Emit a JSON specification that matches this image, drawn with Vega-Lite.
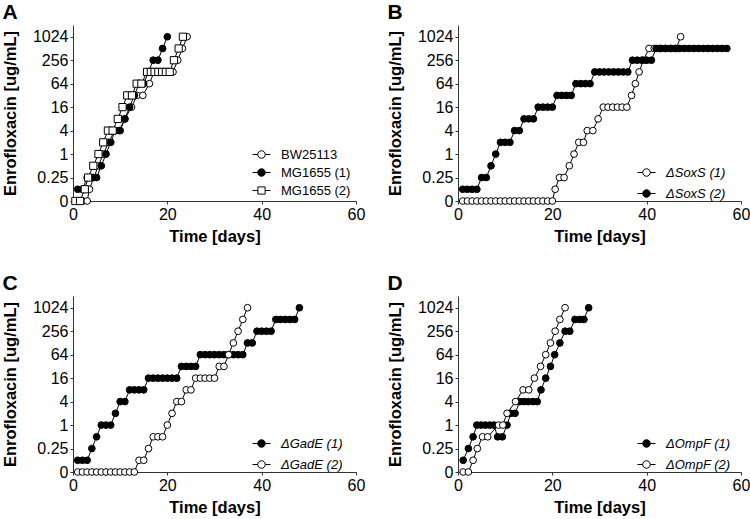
{
  "$schema": "https://vega.github.io/schema/vega-lite/v6.json",
  "padding": {"left": 2, "top": 2, "right": 0, "bottom": 0},
  "background": "white",
  "datasets": {
    "A": [
      {"series": "BW25113", "day": 2, "conc": 0}, {"series": "BW25113", "day": 3, "conc": 0},
      {"series": "BW25113", "day": 3.5, "conc": 0.125}, {"series": "BW25113", "day": 4.4, "conc": 0.25},
      {"series": "BW25113", "day": 5.4, "conc": 0.5}, {"series": "BW25113", "day": 6.4, "conc": 1},
      {"series": "BW25113", "day": 7.6, "conc": 2}, {"series": "BW25113", "day": 8.8, "conc": 4},
      {"series": "BW25113", "day": 9.8, "conc": 4}, {"series": "BW25113", "day": 11, "conc": 8},
      {"series": "BW25113", "day": 12.4, "conc": 16}, {"series": "BW25113", "day": 13.6, "conc": 32},
      {"series": "BW25113", "day": 14.8, "conc": 32}, {"series": "BW25113", "day": 16.2, "conc": 64},
      {"series": "BW25113", "day": 17.2, "conc": 128}, {"series": "BW25113", "day": 18, "conc": 128},
      {"series": "BW25113", "day": 18.8, "conc": 128}, {"series": "BW25113", "day": 19.6, "conc": 128},
      {"series": "BW25113", "day": 20.4, "conc": 128}, {"series": "BW25113", "day": 21.2, "conc": 128},
      {"series": "BW25113", "day": 22.2, "conc": 256}, {"series": "BW25113", "day": 23.2, "conc": 512},
      {"series": "BW25113", "day": 24.2, "conc": 1024},
      {"series": "MG1655 (1)", "day": 1, "conc": 0.125}, {"series": "MG1655 (1)", "day": 2, "conc": 0.125},
      {"series": "MG1655 (1)", "day": 3, "conc": 0.25}, {"series": "MG1655 (1)", "day": 4, "conc": 0.25},
      {"series": "MG1655 (1)", "day": 5, "conc": 0.25}, {"series": "MG1655 (1)", "day": 6, "conc": 0.5},
      {"series": "MG1655 (1)", "day": 7, "conc": 1}, {"series": "MG1655 (1)", "day": 8, "conc": 2},
      {"series": "MG1655 (1)", "day": 9, "conc": 4}, {"series": "MG1655 (1)", "day": 10, "conc": 4},
      {"series": "MG1655 (1)", "day": 11, "conc": 8}, {"series": "MG1655 (1)", "day": 12, "conc": 16},
      {"series": "MG1655 (1)", "day": 13, "conc": 32}, {"series": "MG1655 (1)", "day": 14, "conc": 64},
      {"series": "MG1655 (1)", "day": 15, "conc": 64}, {"series": "MG1655 (1)", "day": 16, "conc": 128},
      {"series": "MG1655 (1)", "day": 17, "conc": 256}, {"series": "MG1655 (1)", "day": 18, "conc": 256},
      {"series": "MG1655 (1)", "day": 19, "conc": 512}, {"series": "MG1655 (1)", "day": 20, "conc": 1024},
      {"series": "MG1655 (2)", "day": 0.5, "conc": 0}, {"series": "MG1655 (2)", "day": 1.5, "conc": 0},
      {"series": "MG1655 (2)", "day": 2.5, "conc": 0.125}, {"series": "MG1655 (2)", "day": 3.2, "conc": 0.25},
      {"series": "MG1655 (2)", "day": 4.3, "conc": 0.5}, {"series": "MG1655 (2)", "day": 5.4, "conc": 1},
      {"series": "MG1655 (2)", "day": 6.4, "conc": 2}, {"series": "MG1655 (2)", "day": 7.4, "conc": 4},
      {"series": "MG1655 (2)", "day": 8.4, "conc": 4}, {"series": "MG1655 (2)", "day": 9.5, "conc": 8},
      {"series": "MG1655 (2)", "day": 10.5, "conc": 16}, {"series": "MG1655 (2)", "day": 11.5, "conc": 32},
      {"series": "MG1655 (2)", "day": 12.5, "conc": 32}, {"series": "MG1655 (2)", "day": 13.5, "conc": 64},
      {"series": "MG1655 (2)", "day": 14.5, "conc": 64}, {"series": "MG1655 (2)", "day": 15.7, "conc": 128},
      {"series": "MG1655 (2)", "day": 16.5, "conc": 128}, {"series": "MG1655 (2)", "day": 17.3, "conc": 128},
      {"series": "MG1655 (2)", "day": 18.1, "conc": 128}, {"series": "MG1655 (2)", "day": 18.9, "conc": 128},
      {"series": "MG1655 (2)", "day": 19.7, "conc": 128}, {"series": "MG1655 (2)", "day": 20.5, "conc": 128},
      {"series": "MG1655 (2)", "day": 21.4, "conc": 256}, {"series": "MG1655 (2)", "day": 22.4, "conc": 512},
      {"series": "MG1655 (2)", "day": 23.3, "conc": 1024}
    ],
    "B": [
      {"series": "ΔSoxS (1)", "day": 1, "conc": 0}, {"series": "ΔSoxS (1)", "day": 2, "conc": 0},
      {"series": "ΔSoxS (1)", "day": 3, "conc": 0}, {"series": "ΔSoxS (1)", "day": 4, "conc": 0},
      {"series": "ΔSoxS (1)", "day": 5, "conc": 0}, {"series": "ΔSoxS (1)", "day": 6, "conc": 0},
      {"series": "ΔSoxS (1)", "day": 7, "conc": 0}, {"series": "ΔSoxS (1)", "day": 8, "conc": 0},
      {"series": "ΔSoxS (1)", "day": 9, "conc": 0}, {"series": "ΔSoxS (1)", "day": 10, "conc": 0},
      {"series": "ΔSoxS (1)", "day": 11, "conc": 0}, {"series": "ΔSoxS (1)", "day": 12, "conc": 0},
      {"series": "ΔSoxS (1)", "day": 13, "conc": 0}, {"series": "ΔSoxS (1)", "day": 14, "conc": 0},
      {"series": "ΔSoxS (1)", "day": 15, "conc": 0}, {"series": "ΔSoxS (1)", "day": 16, "conc": 0},
      {"series": "ΔSoxS (1)", "day": 17, "conc": 0}, {"series": "ΔSoxS (1)", "day": 18, "conc": 0},
      {"series": "ΔSoxS (1)", "day": 19, "conc": 0}, {"series": "ΔSoxS (1)", "day": 20, "conc": 0},
      {"series": "ΔSoxS (1)", "day": 20.6, "conc": 0.125}, {"series": "ΔSoxS (1)", "day": 21.5, "conc": 0.25},
      {"series": "ΔSoxS (1)", "day": 22.5, "conc": 0.25}, {"series": "ΔSoxS (1)", "day": 23.6, "conc": 0.5},
      {"series": "ΔSoxS (1)", "day": 24.6, "conc": 1}, {"series": "ΔSoxS (1)", "day": 25.6, "conc": 2},
      {"series": "ΔSoxS (1)", "day": 26.6, "conc": 2}, {"series": "ΔSoxS (1)", "day": 27.4, "conc": 4},
      {"series": "ΔSoxS (1)", "day": 28.6, "conc": 4}, {"series": "ΔSoxS (1)", "day": 29.7, "conc": 8},
      {"series": "ΔSoxS (1)", "day": 30.8, "conc": 16}, {"series": "ΔSoxS (1)", "day": 31.8, "conc": 16},
      {"series": "ΔSoxS (1)", "day": 32.8, "conc": 16}, {"series": "ΔSoxS (1)", "day": 33.8, "conc": 16},
      {"series": "ΔSoxS (1)", "day": 34.8, "conc": 16}, {"series": "ΔSoxS (1)", "day": 35.8, "conc": 16},
      {"series": "ΔSoxS (1)", "day": 36.8, "conc": 32}, {"series": "ΔSoxS (1)", "day": 37.6, "conc": 64},
      {"series": "ΔSoxS (1)", "day": 38.4, "conc": 128}, {"series": "ΔSoxS (1)", "day": 39.3, "conc": 256},
      {"series": "ΔSoxS (1)", "day": 40.5, "conc": 512}, {"series": "ΔSoxS (1)", "day": 41.6, "conc": 512},
      {"series": "ΔSoxS (1)", "day": 42.8, "conc": 512}, {"series": "ΔSoxS (1)", "day": 44, "conc": 512},
      {"series": "ΔSoxS (1)", "day": 45.2, "conc": 512}, {"series": "ΔSoxS (1)", "day": 46.3, "conc": 512},
      {"series": "ΔSoxS (1)", "day": 47.2, "conc": 1024},
      {"series": "ΔSoxS (2)", "day": 1, "conc": 0.125}, {"series": "ΔSoxS (2)", "day": 2, "conc": 0.125},
      {"series": "ΔSoxS (2)", "day": 3, "conc": 0.125}, {"series": "ΔSoxS (2)", "day": 4, "conc": 0.125},
      {"series": "ΔSoxS (2)", "day": 5, "conc": 0.25}, {"series": "ΔSoxS (2)", "day": 6, "conc": 0.25},
      {"series": "ΔSoxS (2)", "day": 7, "conc": 0.5}, {"series": "ΔSoxS (2)", "day": 8, "conc": 1},
      {"series": "ΔSoxS (2)", "day": 9, "conc": 2}, {"series": "ΔSoxS (2)", "day": 10, "conc": 2},
      {"series": "ΔSoxS (2)", "day": 11, "conc": 2}, {"series": "ΔSoxS (2)", "day": 12, "conc": 4},
      {"series": "ΔSoxS (2)", "day": 13, "conc": 4}, {"series": "ΔSoxS (2)", "day": 14, "conc": 8},
      {"series": "ΔSoxS (2)", "day": 15, "conc": 8}, {"series": "ΔSoxS (2)", "day": 16, "conc": 8},
      {"series": "ΔSoxS (2)", "day": 17, "conc": 16}, {"series": "ΔSoxS (2)", "day": 18, "conc": 16},
      {"series": "ΔSoxS (2)", "day": 19, "conc": 16}, {"series": "ΔSoxS (2)", "day": 20, "conc": 16},
      {"series": "ΔSoxS (2)", "day": 21, "conc": 32}, {"series": "ΔSoxS (2)", "day": 22, "conc": 32},
      {"series": "ΔSoxS (2)", "day": 23, "conc": 32}, {"series": "ΔSoxS (2)", "day": 24, "conc": 32},
      {"series": "ΔSoxS (2)", "day": 25, "conc": 64}, {"series": "ΔSoxS (2)", "day": 26, "conc": 64},
      {"series": "ΔSoxS (2)", "day": 27, "conc": 64}, {"series": "ΔSoxS (2)", "day": 28, "conc": 64},
      {"series": "ΔSoxS (2)", "day": 29, "conc": 128}, {"series": "ΔSoxS (2)", "day": 30, "conc": 128},
      {"series": "ΔSoxS (2)", "day": 31, "conc": 128}, {"series": "ΔSoxS (2)", "day": 32, "conc": 128},
      {"series": "ΔSoxS (2)", "day": 33, "conc": 128}, {"series": "ΔSoxS (2)", "day": 34, "conc": 128},
      {"series": "ΔSoxS (2)", "day": 35, "conc": 128}, {"series": "ΔSoxS (2)", "day": 36, "conc": 128},
      {"series": "ΔSoxS (2)", "day": 37, "conc": 256}, {"series": "ΔSoxS (2)", "day": 38, "conc": 256},
      {"series": "ΔSoxS (2)", "day": 39, "conc": 256}, {"series": "ΔSoxS (2)", "day": 40, "conc": 256},
      {"series": "ΔSoxS (2)", "day": 41, "conc": 256}, {"series": "ΔSoxS (2)", "day": 42, "conc": 512},
      {"series": "ΔSoxS (2)", "day": 43, "conc": 512}, {"series": "ΔSoxS (2)", "day": 44, "conc": 512},
      {"series": "ΔSoxS (2)", "day": 45, "conc": 512}, {"series": "ΔSoxS (2)", "day": 46, "conc": 512},
      {"series": "ΔSoxS (2)", "day": 47, "conc": 512}, {"series": "ΔSoxS (2)", "day": 48, "conc": 512},
      {"series": "ΔSoxS (2)", "day": 49, "conc": 512}, {"series": "ΔSoxS (2)", "day": 50, "conc": 512},
      {"series": "ΔSoxS (2)", "day": 51, "conc": 512}, {"series": "ΔSoxS (2)", "day": 52, "conc": 512},
      {"series": "ΔSoxS (2)", "day": 53, "conc": 512}, {"series": "ΔSoxS (2)", "day": 54, "conc": 512},
      {"series": "ΔSoxS (2)", "day": 55, "conc": 512}, {"series": "ΔSoxS (2)", "day": 56, "conc": 512},
      {"series": "ΔSoxS (2)", "day": 57, "conc": 512}
    ],
    "C": [
      {"series": "ΔGadE (1)", "day": 1, "conc": 0.125}, {"series": "ΔGadE (1)", "day": 2, "conc": 0.125},
      {"series": "ΔGadE (1)", "day": 3, "conc": 0.125}, {"series": "ΔGadE (1)", "day": 4, "conc": 0.25},
      {"series": "ΔGadE (1)", "day": 5, "conc": 0.5}, {"series": "ΔGadE (1)", "day": 6, "conc": 1},
      {"series": "ΔGadE (1)", "day": 7, "conc": 1}, {"series": "ΔGadE (1)", "day": 8, "conc": 1},
      {"series": "ΔGadE (1)", "day": 9, "conc": 2}, {"series": "ΔGadE (1)", "day": 10, "conc": 4},
      {"series": "ΔGadE (1)", "day": 11, "conc": 4}, {"series": "ΔGadE (1)", "day": 12, "conc": 8},
      {"series": "ΔGadE (1)", "day": 13, "conc": 8}, {"series": "ΔGadE (1)", "day": 14, "conc": 8},
      {"series": "ΔGadE (1)", "day": 15, "conc": 8}, {"series": "ΔGadE (1)", "day": 16, "conc": 16},
      {"series": "ΔGadE (1)", "day": 17, "conc": 16}, {"series": "ΔGadE (1)", "day": 18, "conc": 16},
      {"series": "ΔGadE (1)", "day": 19, "conc": 16}, {"series": "ΔGadE (1)", "day": 20, "conc": 16},
      {"series": "ΔGadE (1)", "day": 21, "conc": 16}, {"series": "ΔGadE (1)", "day": 22, "conc": 16},
      {"series": "ΔGadE (1)", "day": 23, "conc": 32}, {"series": "ΔGadE (1)", "day": 24, "conc": 32},
      {"series": "ΔGadE (1)", "day": 25, "conc": 32}, {"series": "ΔGadE (1)", "day": 26, "conc": 32},
      {"series": "ΔGadE (1)", "day": 27, "conc": 64}, {"series": "ΔGadE (1)", "day": 28, "conc": 64},
      {"series": "ΔGadE (1)", "day": 29, "conc": 64}, {"series": "ΔGadE (1)", "day": 30, "conc": 64},
      {"series": "ΔGadE (1)", "day": 31, "conc": 64}, {"series": "ΔGadE (1)", "day": 32, "conc": 64},
      {"series": "ΔGadE (1)", "day": 33, "conc": 64}, {"series": "ΔGadE (1)", "day": 34, "conc": 64},
      {"series": "ΔGadE (1)", "day": 35, "conc": 64}, {"series": "ΔGadE (1)", "day": 36, "conc": 64},
      {"series": "ΔGadE (1)", "day": 37, "conc": 128}, {"series": "ΔGadE (1)", "day": 38, "conc": 128},
      {"series": "ΔGadE (1)", "day": 39, "conc": 256}, {"series": "ΔGadE (1)", "day": 40, "conc": 256},
      {"series": "ΔGadE (1)", "day": 41, "conc": 256}, {"series": "ΔGadE (1)", "day": 42, "conc": 256},
      {"series": "ΔGadE (1)", "day": 43, "conc": 512}, {"series": "ΔGadE (1)", "day": 44, "conc": 512},
      {"series": "ΔGadE (1)", "day": 45, "conc": 512}, {"series": "ΔGadE (1)", "day": 46, "conc": 512},
      {"series": "ΔGadE (1)", "day": 47, "conc": 512}, {"series": "ΔGadE (1)", "day": 48, "conc": 1024},
      {"series": "ΔGadE (2)", "day": 1, "conc": 0}, {"series": "ΔGadE (2)", "day": 2, "conc": 0},
      {"series": "ΔGadE (2)", "day": 3, "conc": 0}, {"series": "ΔGadE (2)", "day": 4, "conc": 0},
      {"series": "ΔGadE (2)", "day": 5, "conc": 0}, {"series": "ΔGadE (2)", "day": 6, "conc": 0},
      {"series": "ΔGadE (2)", "day": 7, "conc": 0}, {"series": "ΔGadE (2)", "day": 8, "conc": 0},
      {"series": "ΔGadE (2)", "day": 9, "conc": 0}, {"series": "ΔGadE (2)", "day": 10, "conc": 0},
      {"series": "ΔGadE (2)", "day": 11, "conc": 0}, {"series": "ΔGadE (2)", "day": 12, "conc": 0},
      {"series": "ΔGadE (2)", "day": 13, "conc": 0}, {"series": "ΔGadE (2)", "day": 14, "conc": 0.125},
      {"series": "ΔGadE (2)", "day": 15, "conc": 0.125}, {"series": "ΔGadE (2)", "day": 16, "conc": 0.25},
      {"series": "ΔGadE (2)", "day": 17, "conc": 0.5}, {"series": "ΔGadE (2)", "day": 18, "conc": 0.5},
      {"series": "ΔGadE (2)", "day": 19, "conc": 0.5}, {"series": "ΔGadE (2)", "day": 20, "conc": 1},
      {"series": "ΔGadE (2)", "day": 21, "conc": 2}, {"series": "ΔGadE (2)", "day": 22, "conc": 4},
      {"series": "ΔGadE (2)", "day": 23, "conc": 4}, {"series": "ΔGadE (2)", "day": 24, "conc": 8},
      {"series": "ΔGadE (2)", "day": 25, "conc": 8}, {"series": "ΔGadE (2)", "day": 26, "conc": 16},
      {"series": "ΔGadE (2)", "day": 27, "conc": 16}, {"series": "ΔGadE (2)", "day": 28, "conc": 16},
      {"series": "ΔGadE (2)", "day": 29, "conc": 16}, {"series": "ΔGadE (2)", "day": 30, "conc": 16},
      {"series": "ΔGadE (2)", "day": 31, "conc": 32}, {"series": "ΔGadE (2)", "day": 32, "conc": 32},
      {"series": "ΔGadE (2)", "day": 33, "conc": 64}, {"series": "ΔGadE (2)", "day": 34, "conc": 128},
      {"series": "ΔGadE (2)", "day": 35, "conc": 256}, {"series": "ΔGadE (2)", "day": 36, "conc": 512},
      {"series": "ΔGadE (2)", "day": 37, "conc": 1024}
    ],
    "D": [
      {"series": "ΔOmpF (1)", "day": 1.1, "conc": 0.125}, {"series": "ΔOmpF (1)", "day": 2.2, "conc": 0.25},
      {"series": "ΔOmpF (1)", "day": 3.2, "conc": 0.5}, {"series": "ΔOmpF (1)", "day": 4, "conc": 1},
      {"series": "ΔOmpF (1)", "day": 4.9, "conc": 1}, {"series": "ΔOmpF (1)", "day": 5.8, "conc": 1},
      {"series": "ΔOmpF (1)", "day": 6.7, "conc": 1}, {"series": "ΔOmpF (1)", "day": 7.6, "conc": 1},
      {"series": "ΔOmpF (1)", "day": 8.4, "conc": 0.5}, {"series": "ΔOmpF (1)", "day": 9.4, "conc": 0.5},
      {"series": "ΔOmpF (1)", "day": 10.4, "conc": 1}, {"series": "ΔOmpF (1)", "day": 11.2, "conc": 2},
      {"series": "ΔOmpF (1)", "day": 12.1, "conc": 2}, {"series": "ΔOmpF (1)", "day": 13.1, "conc": 4},
      {"series": "ΔOmpF (1)", "day": 14, "conc": 4}, {"series": "ΔOmpF (1)", "day": 14.9, "conc": 4},
      {"series": "ΔOmpF (1)", "day": 15.9, "conc": 4}, {"series": "ΔOmpF (1)", "day": 16.8, "conc": 4},
      {"series": "ΔOmpF (1)", "day": 17.6, "conc": 8}, {"series": "ΔOmpF (1)", "day": 18.6, "conc": 16},
      {"series": "ΔOmpF (1)", "day": 19.6, "conc": 32}, {"series": "ΔOmpF (1)", "day": 20.5, "conc": 64},
      {"series": "ΔOmpF (1)", "day": 21.6, "conc": 128}, {"series": "ΔOmpF (1)", "day": 22.7, "conc": 256},
      {"series": "ΔOmpF (1)", "day": 23.7, "conc": 256}, {"series": "ΔOmpF (1)", "day": 24.8, "conc": 512},
      {"series": "ΔOmpF (1)", "day": 25.8, "conc": 512}, {"series": "ΔOmpF (1)", "day": 26.7, "conc": 512},
      {"series": "ΔOmpF (1)", "day": 27.7, "conc": 1024},
      {"series": "ΔOmpF (2)", "day": 1.1, "conc": 0}, {"series": "ΔOmpF (2)", "day": 2.2, "conc": 0},
      {"series": "ΔOmpF (2)", "day": 3.2, "conc": 0.125}, {"series": "ΔOmpF (2)", "day": 4.1, "conc": 0.25},
      {"series": "ΔOmpF (2)", "day": 5.2, "conc": 0.5}, {"series": "ΔOmpF (2)", "day": 6.3, "conc": 0.5},
      {"series": "ΔOmpF (2)", "day": 8.6, "conc": 1}, {"series": "ΔOmpF (2)", "day": 9.5, "conc": 1},
      {"series": "ΔOmpF (2)", "day": 10.4, "conc": 2}, {"series": "ΔOmpF (2)", "day": 12.2, "conc": 4},
      {"series": "ΔOmpF (2)", "day": 13.8, "conc": 8}, {"series": "ΔOmpF (2)", "day": 15, "conc": 8},
      {"series": "ΔOmpF (2)", "day": 16.2, "conc": 16}, {"series": "ΔOmpF (2)", "day": 17.5, "conc": 32},
      {"series": "ΔOmpF (2)", "day": 18.6, "conc": 64}, {"series": "ΔOmpF (2)", "day": 19.6, "conc": 128},
      {"series": "ΔOmpF (2)", "day": 20.6, "conc": 256}, {"series": "ΔOmpF (2)", "day": 21.6, "conc": 512},
      {"series": "ΔOmpF (2)", "day": 22.7, "conc": 1024}
    ]
  },
  "columns": 2,
  "spacing": {"column": 22, "row": 28},
  "concat": [
    {
      "width": 283, "height": 176,
      "title": {"text": "A"},
      "data": {"name": "A"},
      "layer": [
        {"mark": {"type": "line", "color": "black", "strokeWidth": 1},
         "encoding": {
           "x": {"field": "day", "type": "quantitative", "scale": {"domain": [0, 60], "nice": false}, "axis": {"values": [0, 20, 40, 60], "title": "Time [days]"}},
           "y": {"field": "conc", "type": "ordinal", "scale": {"domain": [0, 0.125, 0.25, 0.5, 1, 2, 4, 8, 16, 32, 64, 128, 256, 512, 1024, 2048], "reverse": true, "padding": 0}, "axis": {"values": [0, 0.25, 1, 4, 16, 64, 256, 1024], "title": "Enrofloxacin [ug/mL]"}},
           "detail": {"field": "series", "type": "nominal"},
           "order": {"field": "day", "type": "quantitative"}}},
        {"transform": [{"filter": "datum.series !== 'MG1655 (2)'"}],
         "mark": {"type": "point", "filled": true, "shape": "circle", "stroke": "black", "strokeWidth": 1, "opacity": 1, "size": 45},
         "encoding": {
           "x": {"field": "day", "type": "quantitative"},
           "y": {"field": "conc", "type": "ordinal"},
           "fill": {"field": "series", "type": "nominal", "scale": {"domain": ["BW25113", "MG1655 (1)", "MG1655 (2)"], "range": ["white", "black", "white"]},
             "legend": {"orient": "none", "legendX": 179, "legendY": 120, "title": null, "rowPadding": 1,
               "encode": {"symbols": {"update": {"shape": [
                 {"test": "datum.value === 'MG1655 (2)'", "value": "M-1,0H-0.4M0.4,0H1M-0.4,-0.4H0.4V0.4H-0.4Z"},
                 {"value": "M-1,0H-0.42M0.42,0H1M0.42,0A0.42,0.42 0 1,1 -0.42,0A0.42,0.42 0 1,1 0.42,0Z"}]}}}}}}},
        {"transform": [{"filter": "datum.series === 'MG1655 (2)'"}],
         "mark": {"type": "point", "filled": true, "shape": "square", "stroke": "black", "strokeWidth": 1, "opacity": 1, "size": 52},
         "encoding": {
           "x": {"field": "day", "type": "quantitative"},
           "y": {"field": "conc", "type": "ordinal"},
           "fill": {"field": "series", "type": "nominal"}}}
      ]
    },
    {
      "width": 283, "height": 176,
      "title": {"text": "B"},
      "data": {"name": "B"},
      "layer": [
        {"mark": {"type": "line", "color": "black", "strokeWidth": 1},
         "encoding": {
           "x": {"field": "day", "type": "quantitative", "scale": {"domain": [0, 60], "nice": false}, "axis": {"values": [0, 20, 40, 60], "title": "Time [days]"}},
           "y": {"field": "conc", "type": "ordinal", "scale": {"domain": [0, 0.125, 0.25, 0.5, 1, 2, 4, 8, 16, 32, 64, 128, 256, 512, 1024, 2048], "reverse": true, "padding": 0}, "axis": {"values": [0, 0.25, 1, 4, 16, 64, 256, 1024], "title": "Enrofloxacin [ug/mL]"}},
           "detail": {"field": "series", "type": "nominal"},
           "order": {"field": "day", "type": "quantitative"}}},
        {"mark": {"type": "point", "filled": true, "shape": "circle", "stroke": "black", "strokeWidth": 1, "opacity": 1, "size": 45},
         "encoding": {
           "x": {"field": "day", "type": "quantitative"},
           "y": {"field": "conc", "type": "ordinal"},
           "fill": {"field": "series", "type": "nominal", "scale": {"domain": ["ΔSoxS (1)", "ΔSoxS (2)"], "range": ["white", "black"]},
             "legend": {"orient": "none", "legendX": 179, "legendY": 138, "title": null, "labelFontStyle": "italic"}}}}
      ]
    },
    {
      "width": 283, "height": 176,
      "title": {"text": "C"},
      "data": {"name": "C"},
      "layer": [
        {"mark": {"type": "line", "color": "black", "strokeWidth": 1},
         "encoding": {
           "x": {"field": "day", "type": "quantitative", "scale": {"domain": [0, 60], "nice": false}, "axis": {"values": [0, 20, 40, 60], "title": "Time [days]"}},
           "y": {"field": "conc", "type": "ordinal", "scale": {"domain": [0, 0.125, 0.25, 0.5, 1, 2, 4, 8, 16, 32, 64, 128, 256, 512, 1024, 2048], "reverse": true, "padding": 0}, "axis": {"values": [0, 0.25, 1, 4, 16, 64, 256, 1024], "title": "Enrofloxacin [ug/mL]"}},
           "detail": {"field": "series", "type": "nominal"},
           "order": {"field": "day", "type": "quantitative"}}},
        {"mark": {"type": "point", "filled": true, "shape": "circle", "stroke": "black", "strokeWidth": 1, "opacity": 1, "size": 45},
         "encoding": {
           "x": {"field": "day", "type": "quantitative"},
           "y": {"field": "conc", "type": "ordinal"},
           "fill": {"field": "series", "type": "nominal", "scale": {"domain": ["ΔGadE (1)", "ΔGadE (2)"], "range": ["black", "white"]},
             "legend": {"orient": "none", "legendX": 179, "legendY": 138, "title": null, "labelFontStyle": "italic"}}}}
      ]
    },
    {
      "width": 283, "height": 176,
      "title": {"text": "D"},
      "data": {"name": "D"},
      "layer": [
        {"mark": {"type": "line", "color": "black", "strokeWidth": 1},
         "encoding": {
           "x": {"field": "day", "type": "quantitative", "scale": {"domain": [0, 60], "nice": false}, "axis": {"values": [0, 20, 40, 60], "title": "Time [days]"}},
           "y": {"field": "conc", "type": "ordinal", "scale": {"domain": [0, 0.125, 0.25, 0.5, 1, 2, 4, 8, 16, 32, 64, 128, 256, 512, 1024, 2048], "reverse": true, "padding": 0}, "axis": {"values": [0, 0.25, 1, 4, 16, 64, 256, 1024], "title": "Enrofloxacin [ug/mL]"}},
           "detail": {"field": "series", "type": "nominal"},
           "order": {"field": "day", "type": "quantitative"}}},
        {"mark": {"type": "point", "filled": true, "shape": "circle", "stroke": "black", "strokeWidth": 1, "opacity": 1, "size": 45},
         "encoding": {
           "x": {"field": "day", "type": "quantitative"},
           "y": {"field": "conc", "type": "ordinal"},
           "fill": {"field": "series", "type": "nominal", "scale": {"domain": ["ΔOmpF (1)", "ΔOmpF (2)"], "range": ["black", "white"]},
             "legend": {"orient": "none", "legendX": 179, "legendY": 138, "title": null, "labelFontStyle": "italic"}}}}
      ]
    }
  ],
  "resolve": {
    "scale": {"x": "independent", "y": "independent", "fill": "independent"},
    "legend": {"fill": "independent"}
  },
  "config": {
    "font": "Liberation Sans",
    "view": {"stroke": null},
    "title": {"font": "Liberation Sans", "fontSize": 21, "fontWeight": "bold", "anchor": "start", "frame": "bounds", "offset": 2, "color": "black"},
    "axis": {
      "grid": false, "domainColor": "#333", "tickColor": "#333", "tickSize": 3, "domainWidth": 1,
      "labelFont": "Liberation Sans", "labelFontSize": 16, "labelColor": "black", "labelPadding": 2,
      "titleFont": "Liberation Sans", "titleFontSize": 16.5, "titleFontWeight": "bold", "titleColor": "black"
    },
    "axisY": {"titlePadding": 14},
    "axisX": {"titlePadding": 6, "labelFlush": false},
    "legend": {
      "labelFont": "Liberation Sans", "labelFontSize": 13, "labelColor": "black",
      "symbolSize": 324, "symbolStrokeColor": "black", "symbolStrokeWidth": 1, "symbolOpacity": 1,
      "symbolType": "M-1,0H-0.42M0.42,0H1M0.42,0A0.42,0.42 0 1,1 -0.42,0A0.42,0.42 0 1,1 0.42,0Z",
      "rowPadding": 4, "labelOffset": 10, "padding": 0
    }
  }
}
